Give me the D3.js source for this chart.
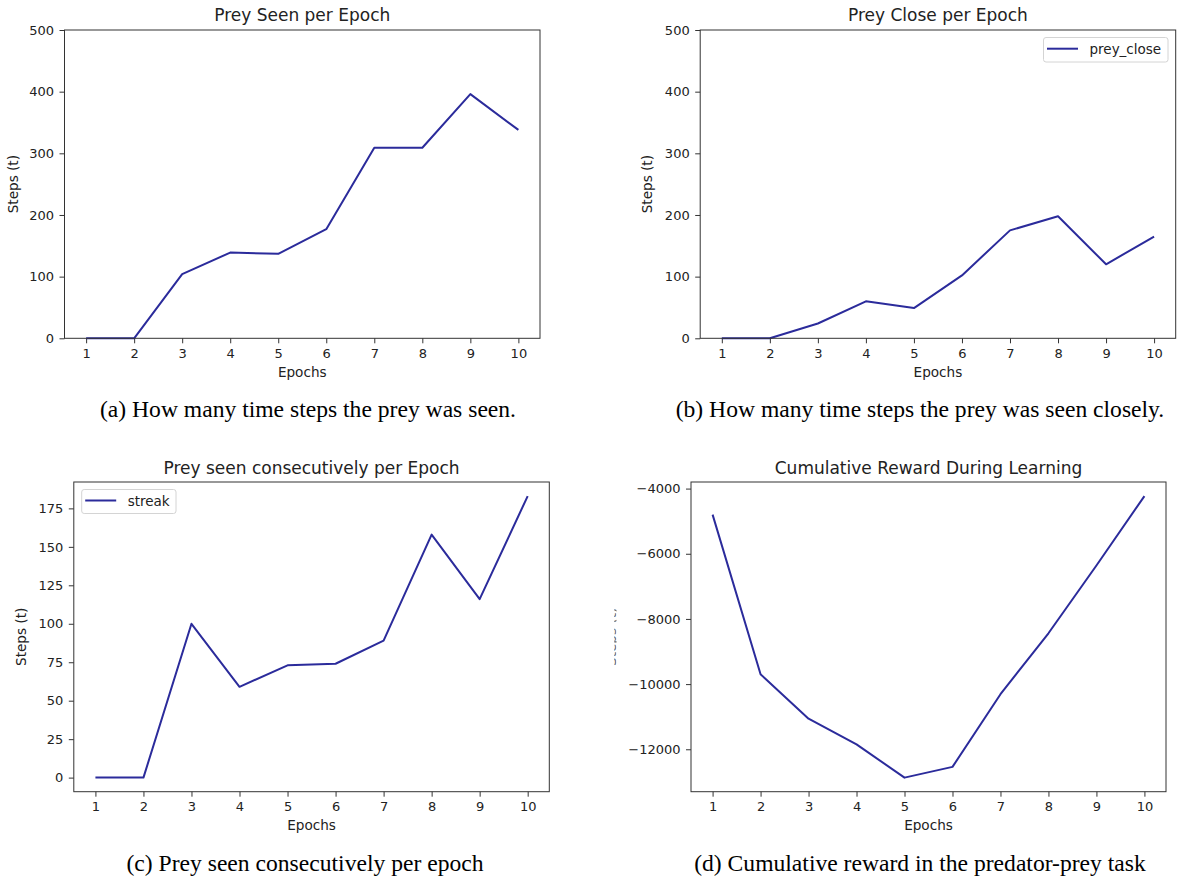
<!DOCTYPE html>
<html><head><meta charset="utf-8">
<script src="https://cdn.jsdelivr.net/npm/d3@7"></script>
<style>
body{margin:0;background:#fff;}
</style></head><body>
<svg id="fig" width="1178" height="883"></svg>
<script>
// ---- data ----
const epochs = [1,2,3,4,5,6,7,8,9,10];
const preySeen = [0,0,104,139,137,177,309,309,396,338];
const preyClose = [0,0,24,60,49,102,175,198,120,165];
const streak = [0,0,100,59,73,74,89,158,116,183];
const reward = [-4800,-9700,-11060,-11850,-12870,-12540,-10310,-8440,-6360,-4230];
const stepTicks = [0,100,200,300,400,500];
const streakTicks = [0,25,50,75,100,125,150,175];
const rewardTicks = [-12000,-10000,-8000,-6000,-4000];
const titles = ["Prey Seen per Epoch","Prey Close per Epoch","Prey seen consecutively per Epoch","Cumulative Reward During Learning"];
const captions = ["(a) How many time steps the prey was seen.","(b) How many time steps the prey was seen closely.","(c) Prey seen consecutively per epoch","(d) Cumulative reward in the predator-prey task"];
const legendNames = {b:"prey_close", c:"streak"};
const xLabel = "Epochs", yLabel = "Steps (t)";

const LINE = "#2b2b9b";
const SANS = '"DejaVu Sans", sans-serif';
const SERIF = '"Liberation Serif", "Times New Roman", Tinos, serif';
const svg = d3.select("#fig");

function sans(sel, size){ return sel.style("font-family",SANS).style("font-size",size+"px").style("fill","#222"); }

function autoDomain(v){
  const lo = d3.min(v), hi = d3.max(v), m = (hi-lo)*0.05;
  return [lo-m, hi+m];
}

function panel(cfg){
  const {L,R,T,B} = cfg.box;
  const x = d3.scaleLinear().domain([0.55,10.45]).range([L,R]);
  const y = d3.scaleLinear().domain(cfg.yDomain).range([B,T]);
  const g = svg.append("g");

  const xa = g.append("g").attr("transform",`translate(0,${B})`)
    .call(d3.axisBottom(x).tickValues(epochs).tickFormat(d3.format("d")).tickSize(5).tickSizeOuter(0).tickPadding(5.5));
  xa.select(".domain").remove();
  xa.selectAll("line").attr("stroke","#333");
  sans(xa.selectAll("text"),13);

  const ya = g.append("g").attr("transform",`translate(${L},0)`)
    .call(d3.axisLeft(y).tickValues(cfg.yTicks).tickFormat(d3.format("d")).tickSize(5).tickSizeOuter(0).tickPadding(5.5));
  ya.select(".domain").remove();
  ya.selectAll("line").attr("stroke","#333");
  sans(ya.selectAll("text"),13);

  const line = d3.line().x((d,i)=>x(epochs[i])).y(d=>y(d));
  g.append("path").datum(cfg.values).attr("d",line)
    .attr("fill","none").attr("stroke",LINE).attr("stroke-width",2).attr("stroke-linejoin","round");

  g.append("rect").attr("x",L).attr("y",T).attr("width",R-L).attr("height",B-T)
    .attr("fill","none").attr("stroke","#333").attr("stroke-width",1);

  sans(g.append("text").attr("x",(L+R)/2).attr("y",T-cfg.titleOff).attr("text-anchor","middle"),17).text(cfg.title);
  sans(g.append("text").attr("x",(L+R)/2).attr("y",B+38.7).attr("text-anchor","middle"),13.6).text(xLabel);
  if (cfg.yLabelX !== undefined){
    const holder = cfg.clip ? g.append("g").attr("clip-path","url(#"+cfg.clip+")") : g;
    const t = sans(holder.append("text").attr("transform",`translate(${cfg.yLabelX},${(T+B)/2}) rotate(-90)`)
      .attr("text-anchor","middle"),13.6).text(yLabel);
    if (cfg.clip) t.style("fill","#666");
  }
  if (cfg.legend){
    const lg = cfg.legend;
    g.append("rect").attr("x",lg.x0).attr("y",lg.y0).attr("width",lg.x1-lg.x0).attr("height",lg.y1-lg.y0)
      .attr("rx",2.5).attr("fill","#fff").attr("stroke","#d4d4d4").attr("stroke-width",1);
    g.append("line").attr("x1",lg.x0+3.5).attr("x2",lg.x0+34.5).attr("y1",lg.ly).attr("y2",lg.ly)
      .attr("stroke",LINE).attr("stroke-width",2);
    sans(g.append("text").attr("x",lg.x0+46).attr("y",lg.ly+5),13.5).text(lg.name);
  }
  g.append("text").attr("x",cfg.capX).attr("y",cfg.capY).attr("text-anchor","middle")
    .style("font-family",SERIF).style("font-size","23.6px").style("fill","#000").text(cfg.caption);
}

svg.append("defs").append("clipPath").attr("id","clipD")
  .append("rect").attr("x",614.3).attr("y",590).attr("width",2.2).attr("height",100);

panel({box:{L:64.5,R:540,T:30,B:338.3}, values:preySeen, yDomain:[0,500], yTicks:stepTicks,
  title:titles[0], titleOff:9.5, yLabelX:17.6, caption:captions[0], capX:308, capY:417});
panel({box:{L:700.2,R:1175.7,T:30,B:338.3}, values:preyClose, yDomain:[0,500], yTicks:stepTicks,
  title:titles[1], titleOff:9.5, yLabelX:652, caption:captions[1], capX:920, capY:417,
  legend:{x0:1043.5,x1:1168,y0:37.5,y1:62,ly:48.7,name:legendNames.b}});
panel({box:{L:73.8,R:549.3,T:482,B:791.7}, values:streak, yDomain:autoDomain(streak), yTicks:streakTicks,
  title:titles[2], titleOff:8, yLabelX:26, caption:captions[2], capX:305, capY:871,
  legend:{x0:81.7,x1:176,y0:489.5,y1:513.5,ly:500.5,name:legendNames.c}});
panel({box:{L:691,R:1166,T:482,B:791.7}, values:reward, yDomain:autoDomain(reward), yTicks:rewardTicks,
  title:titles[3], titleOff:8, yLabelX:615.6, clip:"clipD", caption:captions[3], capX:920, capY:871});
</script>
</body></html>
